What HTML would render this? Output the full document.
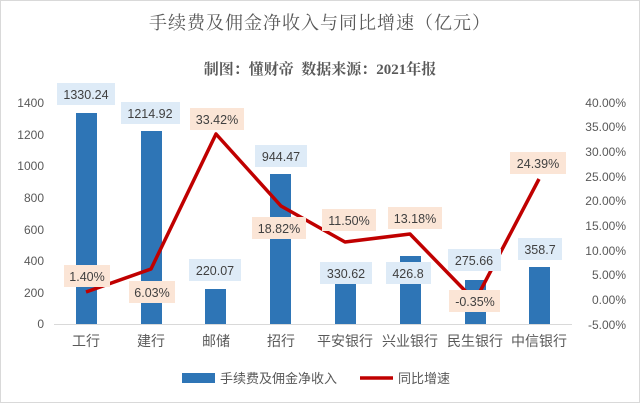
<!DOCTYPE html>
<html><head><meta charset="utf-8"><style>
body{margin:0;background:#fff}
svg{display:block}
text{font-family:"Liberation Sans","Noto Sans CJK SC",sans-serif}
.t{font-family:"Liberation Serif","Noto Serif CJK SC",serif}
</style></head><body>
<svg width="640" height="403" viewBox="0 0 640 403">
<rect x="0.5" y="0.5" width="639" height="402" fill="#fff" stroke="#d9d9d9"/>
<text class="t" x="320" y="29" font-size="18" fill="#595959" text-anchor="middle" letter-spacing="1">手续费及佣金净收入与同比增速（亿元）</text>
<text class="t" x="320" y="74" font-size="15" font-weight="bold" fill="#595959" text-anchor="middle">制图：懂财帝&#160;&#160;数据来源：2021年报</text>
<g font-size="12" fill="#595959" text-anchor="end">
<text x="44" y="107">1400</text><text x="44" y="139">1200</text><text x="44" y="170">1000</text>
<text x="44" y="202">800</text><text x="44" y="234">600</text><text x="44" y="265">400</text>
<text x="44" y="297">200</text><text x="44" y="328">0</text>
</g>
<g font-size="12" fill="#595959" text-anchor="end">
<text x="626" y="107">40.00%</text><text x="626" y="131">35.00%</text><text x="626" y="156">30.00%</text>
<text x="626" y="181">25.00%</text><text x="626" y="205">20.00%</text><text x="626" y="230">15.00%</text>
<text x="626" y="255">10.00%</text><text x="626" y="279">5.00%</text><text x="626" y="304">0.00%</text>
<text x="626" y="329">-5.00%</text>
</g>
<line x1="54" y1="324.5" x2="572" y2="324.5" stroke="#d9d9d9"/>
<g fill="#2e75b6">
<rect x="76" y="113" width="21" height="211"/>
<rect x="141" y="131" width="21" height="193"/>
<rect x="205" y="289" width="21" height="35"/>
<rect x="270" y="174" width="21" height="150"/>
<rect x="335" y="272" width="21" height="52"/>
<rect x="400" y="256" width="21" height="68"/>
<rect x="465" y="280" width="21" height="44"/>
<rect x="529" y="267" width="21" height="57"/>
</g>
<polyline points="86,292 151,269 216,134 281,206 345,242 410,234 475,301 539,179" fill="none" stroke="#c00000" stroke-width="3.5" stroke-linejoin="round"/>
<g font-size="12.5" fill="#404040" text-anchor="middle">
<rect x="57" y="83" width="58" height="22" fill="#deebf7"/><text x="86" y="99">1330.24</text>
<rect x="121" y="102" width="59" height="22" fill="#deebf7"/><text x="150" y="118">1214.92</text>
<rect x="189" y="259" width="52" height="22" fill="#deebf7"/><text x="215" y="275">220.07</text>
<rect x="255" y="145" width="52" height="22" fill="#deebf7"/><text x="281" y="161">944.47</text>
<rect x="320" y="262" width="52" height="22" fill="#deebf7"/><text x="346" y="278">330.62</text>
<rect x="386" y="262" width="45" height="22" fill="#deebf7"/><text x="408" y="278">426.8</text>
<rect x="448" y="249" width="53" height="22" fill="#deebf7"/><text x="474" y="265">275.66</text>
<rect x="518" y="238" width="44" height="22" fill="#deebf7"/><text x="540" y="254">358.7</text>
<rect x="64" y="265" width="46" height="22" fill="#fbe5d6"/><text x="87" y="281">1.40%</text>
<rect x="129" y="281" width="46" height="22" fill="#fbe5d6"/><text x="152" y="297">6.03%</text>
<rect x="190" y="108" width="54" height="22" fill="#fbe5d6"/><text x="217" y="124">33.42%</text>
<rect x="252" y="217" width="54" height="22" fill="#fbe5d6"/><text x="279" y="233">18.82%</text>
<rect x="322" y="209" width="54" height="22" fill="#fbe5d6"/><text x="349" y="225">11.50%</text>
<rect x="388" y="207" width="54" height="22" fill="#fbe5d6"/><text x="415" y="223">13.18%</text>
<rect x="449" y="290" width="51" height="22" fill="#fbe5d6"/><text x="475" y="306">-0.35%</text>
<rect x="510" y="152" width="56" height="22" fill="#fbe5d6"/><text x="538" y="168">24.39%</text>
</g>
<g font-size="14" fill="#595959" text-anchor="middle">
<text x="86" y="346">工行</text><text x="151" y="346">建行</text><text x="216" y="346">邮储</text>
<text x="281" y="346">招行</text><text x="345" y="346">平安银行</text><text x="410" y="346">兴业银行</text>
<text x="475" y="346">民生银行</text><text x="539" y="346">中信银行</text>
</g>
<rect x="182" y="373" width="33" height="10" fill="#2e75b6"/>
<text x="220" y="383" font-size="13" fill="#595959">手续费及佣金净收入</text>
<line x1="360" y1="378" x2="393" y2="378" stroke="#c00000" stroke-width="3.5"/>
<text x="398" y="383" font-size="13" fill="#595959">同比增速</text>
</svg>
</body></html>
